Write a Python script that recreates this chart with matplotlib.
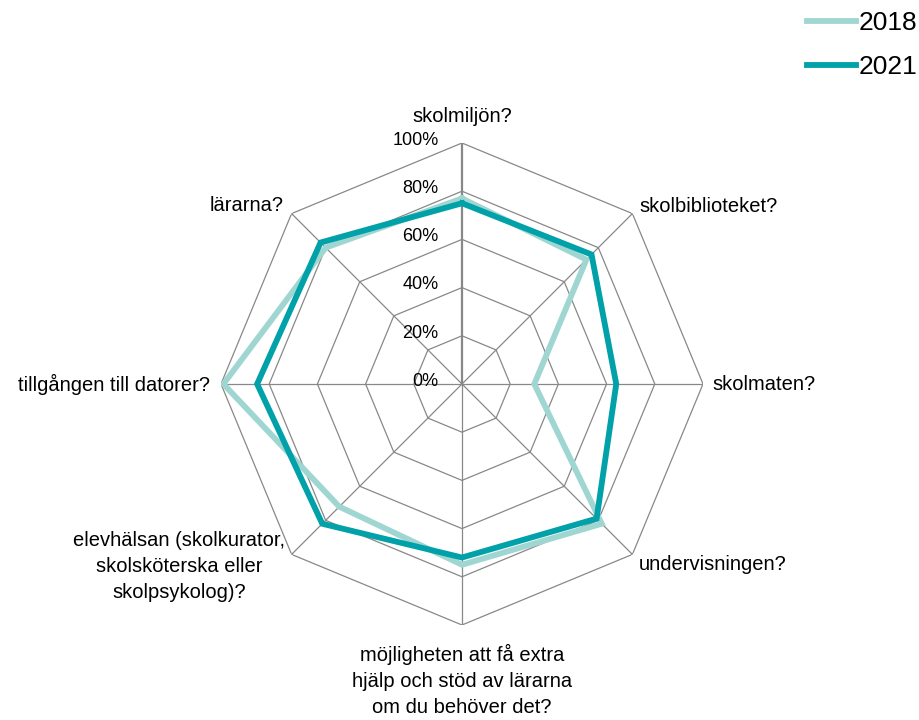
import numpy as np
import matplotlib.pyplot as plt

plt.rcParams['font.family'] = ['Liberation Sans', 'DejaVu Sans']

categories = ['skolmiljön?', 'skolbiblioteket?', 'skolmaten?', 'undervisningen?',
              'möjligheten att få extra\nhjälp och stöd av lärarna\nom du behöver det?',
              'elevhälsan (skolkurator,\nskolsköterska eller\nskolpsykolog)?',
              'tillgången till datorer?', 'lärarna?']
values_2018 = [0.77, 0.73, 0.30, 0.82, 0.75, 0.72, 0.99, 0.80]
values_2021 = [0.75, 0.76, 0.64, 0.79, 0.72, 0.82, 0.85, 0.83]
ticks = [0, 0.2, 0.4, 0.6, 0.8, 1.0]
tick_labels = ['0%', '20%', '40%', '60%', '80%', '100%']

col_2018 = '#a0d6d2'
col_2021 = '#00a1a8'

W, H = 919, 720
fig = plt.figure(figsize=(W / 100, H / 100), dpi=100)
cx, cy, R = 462, 384, 241
ax = fig.add_axes([(cx - R) / W, (H - cy - R) / H, 2 * R / W, 2 * R / H], projection='polar')
ax.set_theta_zero_location('N')
ax.set_theta_direction(-1)
ax.set_ylim(0, 1)
ax.grid(False)
ax.spines['polar'].set_visible(False)
ax.set_xticks([])
ax.set_yticks([])
ax.patch.set_alpha(0)

n = len(categories)
theta = np.linspace(0, 2 * np.pi, n, endpoint=False)
theta_c = np.append(theta, theta[0])

# polygon grid
for t in ticks[1:]:
    ax.plot(theta_c, [t] * (n + 1), color='#888888', lw=0.9, zorder=1)
for i, th in enumerate(theta):
    ax.plot([th, th], [0, 1], color='#888888', lw=1.6 if i == 0 else 0.9, zorder=1)

# radial labels
for t, lab in zip(ticks, tick_labels):
    ax.annotate(lab, (0, t), xytext=(-17, 2), textcoords='offset points',
                ha='right', va='center', fontsize=13, annotation_clip=False)

l1, = ax.plot(theta_c, values_2018 + values_2018[:1], color=col_2018, lw=4.2,
              solid_joinstyle='miter', zorder=3, label='2018')
l2, = ax.plot(theta_c, values_2021 + values_2021[:1], color=col_2021, lw=4.2,
              solid_joinstyle='miter', zorder=4, label='2021')

# category labels: (index, radius, ha, va, x offset pt, y offset pt)
label_pos = [
    (0, 1.11, 'center', 'center', 0, 0),
    (1, 1.04, 'left', 'center', 0, 0),
    (2, 1.04, 'left', 'center', 0, 0),
    (3, 1.04, 'left', 'center', 0, -2),
    (4, 1.08, 'center', 'top', 0, 0),
    (5, 1.03, 'right', 'center', -1, -5),
    (6, 1.045, 'right', 'center', 0, 0),
    (7, 1.045, 'right', 'center', 0, 0),
]
for i, r, ha, va, dx, dy in label_pos:
    ax.annotate(categories[i], (theta[i], r), xytext=(dx, dy), textcoords='offset points',
                ha=ha, va=va, fontsize=14.5, linespacing=1.45, multialignment='center',
                annotation_clip=False)

fig.legend(handles=[l1, l2], loc='upper right', bbox_to_anchor=(1.021, 1.014),
           frameon=False, fontsize=19, handlelength=1.85, handletextpad=0.1,
           labelspacing=0.75, borderpad=0.3)

fig.savefig('out.png', dpi=100)
